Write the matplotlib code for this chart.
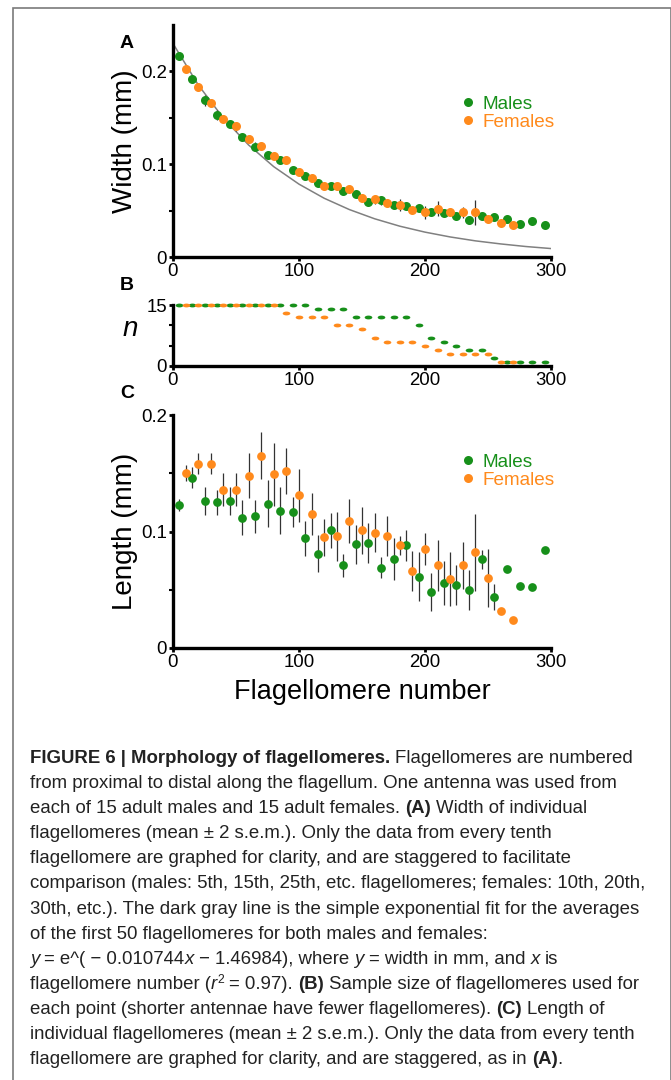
import numpy as np
import matplotlib
matplotlib.use('Agg')
import matplotlib.pyplot as plt
from matplotlib import font_manager
from matplotlib.font_manager import FontProperties
from matplotlib.path import Path
from matplotlib.patches import Rectangle
from matplotlib.lines import Line2D

# ---- data ----
male_x = [5, 15, 25, 35, 45, 55, 65, 75, 85, 95, 105, 115, 125, 135, 145,
          155, 165, 175, 185, 195, 205, 215, 225, 235, 245, 255, 265, 275, 285, 295]
female_x = [10, 20, 30, 40, 50, 60, 70, 80, 90, 100, 110, 120, 130, 140, 150,
            160, 170, 180, 190, 200, 210, 220, 230, 240, 250, 260, 270]

# (A) width, mm (mean, 2 s.e.m.)
male_width = [0.217, 0.192, 0.169, 0.153, 0.143, 0.129, 0.119, 0.110, 0.105, 0.094,
              0.087, 0.080, 0.077, 0.071, 0.068, 0.059, 0.061, 0.056, 0.055, 0.053,
              0.049, 0.047, 0.044, 0.040, 0.044, 0.043, 0.041, 0.036, 0.039, 0.034]
male_width_err = [0.004, 0.004, 0.006, 0.005, 0.004, 0.004, 0.005, 0.004, 0.004, 0.004,
                  0.004, 0.003, 0.004, 0.004, 0.003, 0.004, 0.005, 0.004, 0.003, 0.003,
                  0.003, 0.003, 0.003, 0.004, 0.003, 0.003, 0.002, 0.002, 0.002, 0.002]
female_width = [0.203, 0.183, 0.166, 0.149, 0.141, 0.127, 0.120, 0.109, 0.105, 0.092,
                0.085, 0.076, 0.076, 0.073, 0.064, 0.062, 0.058, 0.056, 0.051, 0.048,
                0.052, 0.049, 0.048, 0.048, 0.041, 0.037, 0.034]
female_width_err = [0.004, 0.004, 0.004, 0.004, 0.005, 0.004, 0.004, 0.004, 0.004, 0.004,
                    0.004, 0.004, 0.004, 0.003, 0.004, 0.005, 0.004, 0.006, 0.003, 0.007,
                    0.008, 0.004, 0.006, 0.013, 0.004, 0.002, 0.002]
fit_x = [0, 20, 40, 60, 80, 100, 120, 140, 160, 180, 200, 220, 240, 260, 280, 300]
fit_width = [0.2300, 0.1855, 0.1496, 0.1207, 0.0973, 0.0785, 0.0633, 0.0511,
             0.0412, 0.0332, 0.0268, 0.0216, 0.0174, 0.0141, 0.0113, 0.0091]

# (B) sample size
male_n = [15, 15, 15, 15, 15, 15, 15, 15, 15, 15, 15, 14, 14, 14, 12,
          12, 12, 12, 12, 10, 7, 6, 5, 4, 4, 2, 1, 1, 1, 1]
female_n = [15, 15, 15, 15, 15, 15, 15, 15, 13, 12, 12, 12, 10, 10, 9,
            7, 6, 6, 6, 5, 4, 3, 3, 3, 3, 1, 1]

# (C) length, mm (mean, 2 s.e.m.)
male_length = [0.123, 0.146, 0.126, 0.125, 0.126, 0.112, 0.113, 0.124, 0.118, 0.117,
               0.094, 0.081, 0.101, 0.071, 0.089, 0.090, 0.069, 0.076, 0.088, 0.061,
               0.048, 0.056, 0.054, 0.050, 0.076, 0.044, 0.068, 0.053, 0.052, 0.084]
male_length_err = [0.005, 0.009, 0.012, 0.011, 0.012, 0.015, 0.014, 0.020, 0.020, 0.013,
                   0.015, 0.016, 0.015, 0.010, 0.017, 0.017, 0.009, 0.018, 0.013, 0.021,
                   0.016, 0.019, 0.017, 0.017, 0.008, 0.011, 0.0, 0.0, 0.0, 0.0]
female_length = [0.150, 0.158, 0.158, 0.136, 0.136, 0.148, 0.165, 0.149, 0.152, 0.131,
                 0.115, 0.095, 0.096, 0.109, 0.101, 0.099, 0.096, 0.088, 0.066, 0.085,
                 0.071, 0.059, 0.071, 0.082, 0.060, 0.032, 0.024]
female_length_err = [0.007, 0.009, 0.009, 0.014, 0.014, 0.019, 0.020, 0.027, 0.020, 0.023,
                     0.018, 0.016, 0.021, 0.019, 0.020, 0.017, 0.017, 0.008, 0.017, 0.014,
                     0.022, 0.023, 0.020, 0.033, 0.025, 0.0, 0.0]

x_ticks = [0, 100, 200, 300]
x_tick_labels = ['0', '100', '200', '300']
mm_ticks = [0, 0.1, 0.2]
mm_tick_labels = ['0', '0.1', '0.2']
mm_minor = [0.05, 0.15]
n_ticks = [0, 15]
n_tick_labels = ['0', '15']
n_minor = [5, 10]
series_labels = ['Males', 'Females']

caption = [
    [("FIGURE 6 | Morphology of flagellomeres.", 'b'), (" Flagellomeres are numbered", 'n')],
    [("from proximal to distal along the flagellum. One antenna was used from", 'n')],
    [("each of 15 adult males and 15 adult females. ", 'n'), ("(A)", 'b'), (" Width of individual", 'n')],
    [("flagellomeres (mean \u00b1 2 s.e.m.). Only the data from every tenth", 'n')],
    [("flagellomere are graphed for clarity, and are staggered to facilitate", 'n')],
    [("comparison (males: 5th, 15th, 25th, etc. flagellomeres; females: 10th, 20th,", 'n')],
    [("30th, etc.). The dark gray line is the simple exponential fit for the averages", 'n')],
    [("of the first 50 flagellomeres for both males and females:", 'n')],
    [("y", 'i'), (" = e^( \u2212 0.010744", 'n'), ("x", 'i'), (" \u2212 1.46984), where ", 'n'),
     ("y", 'i'), (" = width in mm, and ", 'n'), ("x", 'i'), (" is", 'n')],
    [("flagellomere number (", 'n'), ("r", 'i'), ("2", 's'), (" = 0.97). ", 'n'), ("(B)", 'b'),
     (" Sample size of flagellomeres used for", 'n')],
    [("each point (shorter antennae have fewer flagellomeres). ", 'n'), ("(C)", 'b'), (" Length of", 'n')],
    [("individual flagellomeres (mean \u00b1 2 s.e.m.). Only the data from every tenth", 'n')],
    [("flagellomere are graphed for clarity, and are staggered, as in ", 'n'), ("(A)", 'b'), (".", 'n')],
]

green = '#17901a'
orange = '#ff8a1c'
bar_color = '#333333'

fonts = {f.name for f in font_manager.fontManager.ttflist}
plt.rcParams['font.family'] = ['Liberation Sans', 'DejaVu Sans']
cap_family = 'Liberation Sans Narrow' if 'Liberation Sans Narrow' in fonts else 'Liberation Sans'

W, H = 671, 1080
fig = plt.figure(figsize=(W / 100, H / 100), dpi=100)


def add_panel(left, top, right, bottom):
    return fig.add_axes([left / W, 1 - bottom / H, (right - left) / W, (bottom - top) / H])


def style(ax):
    ax.spines['top'].set_visible(False)
    ax.spines['right'].set_visible(False)
    ax.spines['left'].set_linewidth(2.4)
    ax.spines['bottom'].set_linewidth(2.4)
    ax.tick_params(which='major', direction='out', length=3, width=2, labelsize=13.4, pad=1.5)
    ax.tick_params(which='minor', direction='out', length=3, width=1.5)
    ax.set_xlim(0, 300)
    ax.set_xticks(x_ticks, x_tick_labels)


def draw_series(ax, x, y, err, color, ms):
    y = np.array(y)
    err = np.array(err)
    ax.vlines(x, y - err, y + err, color=bar_color, lw=0.9, zorder=2)
    ax.plot(x, y, 'o', color=color, ms=ms, mew=0, zorder=3, clip_on=False)


legend_handles = [Line2D([], [], ls='none', marker='o', color=green, ms=6.5, mew=0),
                  Line2D([], [], ls='none', marker='o', color=orange, ms=6.5, mew=0)]


def add_legend(ax, y_top):
    ax.legend(legend_handles, series_labels, loc='upper left', bbox_to_anchor=(0.768, y_top),
              frameon=False, fontsize=13.6, handlelength=0.5, handletextpad=0.5,
              labelspacing=0.05, borderpad=0, borderaxespad=0,
              labelcolor=[green, orange])


# ---- (A) width ----
axA = add_panel(173, 25, 551, 257)
style(axA)
axA.plot(fit_x, fit_width, color='#808080', lw=1.1, zorder=1)
draw_series(axA, male_x, male_width, male_width_err, green, 6.5)
draw_series(axA, female_x, female_width, female_width_err, orange, 6.5)
axA.set_ylim(0, 0.25)
axA.set_yticks(mm_ticks, mm_tick_labels)
axA.set_yticks(mm_minor, minor=True)
axA.set_ylabel('Width (mm)', fontsize=20, va='center')
axA.yaxis.set_label_coords(-0.127, 0.5)
add_legend(axA, 0.697)

# ---- (B) sample size ----
axB = add_panel(173, 305, 551, 366)
style(axB)
t = np.linspace(0, 2 * np.pi, 40)
dash = Path(np.column_stack([np.cos(t), 0.5 * np.sin(t)]))
axB.plot(male_x, male_n, ls='none', marker=dash, color=green, ms=5.5, mew=0, clip_on=False)
axB.plot(female_x, female_n, ls='none', marker=dash, color=orange, ms=5.5, mew=0, clip_on=False)
axB.set_ylim(0, 15)
axB.set_yticks(n_ticks, n_tick_labels)
axB.set_yticks(n_minor, minor=True)
axB.set_ylabel('n', fontsize=20, style='italic', rotation=0, va='center', ha='center')
axB.yaxis.set_label_coords(-0.114, 0.6)

# ---- (C) length ----
axC = add_panel(173, 415, 551, 648)
style(axC)
draw_series(axC, male_x, male_length, male_length_err, green, 6.3)
draw_series(axC, female_x, female_length, female_length_err, orange, 6.3)
axC.set_ylim(0, 0.2)
axC.set_yticks(mm_ticks, mm_tick_labels)
axC.set_yticks(mm_minor, minor=True)
axC.set_ylabel('Length (mm)', fontsize=20, va='center')
axC.yaxis.set_label_coords(-0.127, 0.5)
axC.set_xlabel('Flagellomere number', fontsize=19.5, va='center')
axC.xaxis.set_label_coords(0.5, -(692 - 648) / 233)
add_legend(axC, 0.835)

# panel letters
for letter, ypix in [('A', 43), ('B', 285), ('C', 394)]:
    fig.text(127 / W, 1 - ypix / H, letter, fontsize=14, fontweight='bold', ha='center', va='center')

# frame around figure + caption
fig.patches.append(Rectangle((13 / W, -0.05), (W - 13.5) / W, 1.05 - 8 / H,
                             transform=fig.transFigure, fill=False, ec='#7a7a7a', lw=1.2))

# ---- caption with mixed styles ----
renderer = fig.canvas.get_renderer()


def prop_for(kind, size):
    if kind == 'b':
        return FontProperties(family=cap_family, size=size, weight='bold')
    if kind == 'i':
        return FontProperties(family=cap_family, size=size, style='italic')
    if kind == 's':
        return FontProperties(family=cap_family, size=size * 0.65)
    return FontProperties(family=cap_family, size=size)


def width_px(s, prop):
    w1 = renderer.get_text_width_height_descent('|' + s + '|', prop, ismath=False)[0]
    w0 = renderer.get_text_width_height_descent('||', prop, ismath=False)[0]
    return w1 - w0


base = width_px(caption[1][0][0], prop_for('n', 10))
cap_size = 10 * 593 / base

for i, line in enumerate(caption):
    x = 30.0
    ybase = 763 + 25.1 * i
    for s, kind in line:
        prop = prop_for(kind, cap_size)
        core = s.strip(' ')
        lead = len(s) - len(s.lstrip(' '))
        trail = len(s) - len(s.rstrip(' '))
        sp = width_px(' ', prop_for('n', cap_size))
        x += lead * sp
        if core:
            dy = -6 if kind == 's' else 0
            fig.text(x / W, 1 - (ybase + dy) / H, core, fontproperties=prop,
                     ha='left', va='baseline', color='#222222')
            x += width_px(core, prop)
        x += trail * sp

fig.savefig('out.png', dpi=100)
